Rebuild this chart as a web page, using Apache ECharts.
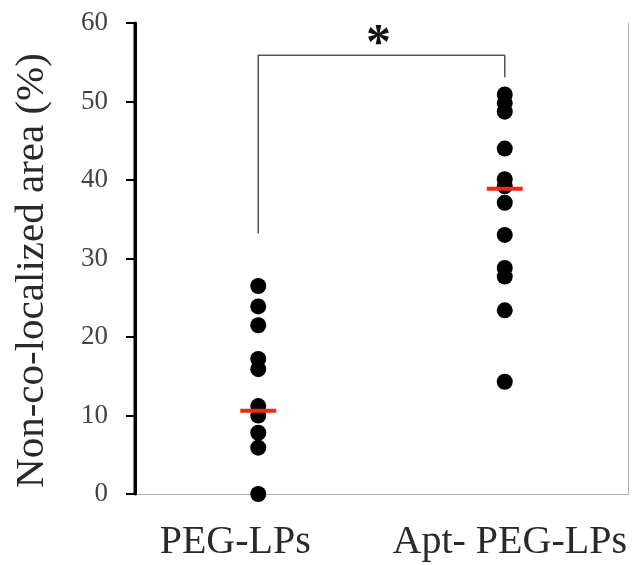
<!DOCTYPE html>
<html>
<head>
<meta charset="utf-8">
<script src="https://cdn.jsdelivr.net/npm/echarts@6/dist/echarts.min.js"></script>
<style>
  html, body { margin: 0; padding: 0; background: #fff; }
  #main { width: 634px; height: 565px; }
</style>
</head>
<body>
<div id="main"></div>
<script>
  // groups on the x axis
  var categories = ["PEG-LPs", "Apt- PEG-LPs"];
  // individual points (%)
  var pegValues = [26.5, 23.9, 21.5, 17.2, 15.9, 11.2, 10.0, 7.8, 5.9, 0.0];
  var aptValues = [50.9, 49.8, 48.7, 44.0, 40.1, 39.2, 37.1, 33.0, 28.8, 27.7, 23.4, 14.3];
  // red bars (median)
  var medians = [10.6, 38.9];
  // significance bracket: [category index, value]
  var bracket = [[0, 33.2], [0, 55.9], [1, 55.9], [1, 53.1]];
  // star: between group 0 and group 1, at this level
  var star = [[0, 1, 57.2]];
  var yTicks = [0, 10, 20, 30, 40, 50, 60];

  var myChart = echarts.init(document.getElementById("main"));
  var serif = "Liberation Serif";
  var frame = { show: true, lineStyle: { color: "#b0b0b0", width: 1 } };

  var option = {
    animation: false,
    grid: {
      left: 135,
      right: 6,
      top: 23,
      bottom: 71,
      outerBoundsMode: "none",
      containLabel: false,
      show: false
    },
    xAxis: [
      {
        type: "category",
        data: [
          // first label sits a little left of its dots in the original
          { value: categories[0], textStyle: { padding: [0, 46, 0, 0] } },
          { value: categories[1], textStyle: { padding: [0, 0, 0, 10] } }
        ],
        boundaryGap: true,
        axisLine: { lineStyle: { color: "#9a9a9a", width: 1 } },
        axisTick: { show: false },
        axisLabel: {
          interval: 0,
          hideOverlap: false,
          fontFamily: serif,
          fontSize: 40,
          color: "#2a2a2a",
          margin: 28
        }
      },
      {
        // top edge of the frame
        type: "category",
        position: "top",
        data: categories,
        axisLine: frame,
        axisTick: { show: false },
        axisLabel: { show: false }
      }
    ],
    yAxis: [
      {
        type: "value",
        min: yTicks[0],
        max: yTicks[yTicks.length - 1],
        interval: 10,
        splitLine: { show: false },
        axisLine: { show: true, lineStyle: { color: "#000", width: 3 } },
        axisTick: { show: true, length: 9, lineStyle: { color: "#000", width: 2 } },
        axisLabel: {
          fontFamily: serif,
          fontSize: 27,
          color: "#444",
          margin: 27
        },
        name: "Non-co-localized area (%)",
        nameLocation: "middle",
        nameGap: 82,
        nameTextStyle: {
          fontFamily: serif,
          fontSize: 41,
          color: "#2a2a2a",
          padding: [0, 24, 0, 0]
        },
        z: 10
      },
      {
        // right edge of the frame
        type: "value",
        position: "right",
        min: yTicks[0],
        max: yTicks[yTicks.length - 1],
        interval: 10,
        splitLine: { show: false },
        axisLine: frame,
        axisTick: { show: false },
        axisLabel: { show: false }
      }
    ],
    series: [
      {
        // heavy black left spine, taken from the grid's own rect
        type: "custom",
        data: [[0, 0]],
        silent: true,
        z: 10,
        renderItem: function (params, api) {
          var cs = params.coordSys;
          return {
            type: "line",
            shape: { x1: cs.x, y1: cs.y, x2: cs.x, y2: cs.y + cs.height },
            style: { stroke: "#000", lineWidth: 3 }
          };
        }
      },
      {
        type: "line",
        data: bracket,
        symbol: "none",
        lineStyle: { color: "#555", width: 1.5 },
        z: 1,
        silent: true
      },
      {
        type: "custom",
        data: star,
        silent: true,
        renderItem: function (params, api) {
          var p0 = api.coord([api.value(0), api.value(2)]);
          var p1 = api.coord([api.value(1), api.value(2)]);
          return {
            type: "text",
            x: (p0[0] + p1[0]) / 2 - 3,
            y: p0[1],
            style: {
              text: "*",
              fontFamily: serif,
              fontSize: 50,
              fontWeight: "bold",
              fill: "#111",
              align: "center",
              verticalAlign: "middle"
            }
          };
        }
      },
      {
        type: "scatter",
        data: pegValues.map(function (v) { return [0, v]; }),
        symbolSize: 16,
        itemStyle: { color: "#000", opacity: 1 },
        z: 3
      },
      {
        type: "scatter",
        data: aptValues.map(function (v) { return [1, v]; }),
        symbolSize: 16,
        itemStyle: { color: "#000", opacity: 1 },
        z: 3
      },
      {
        type: "scatter",
        data: medians.map(function (v, i) { return [i, v]; }),
        symbol: "rect",
        symbolSize: [36, 4],
        itemStyle: { color: "#f02a10", opacity: 1 },
        z: 5
      }
    ]
  };

  myChart.setOption(option);
</script>
</body>
</html>
